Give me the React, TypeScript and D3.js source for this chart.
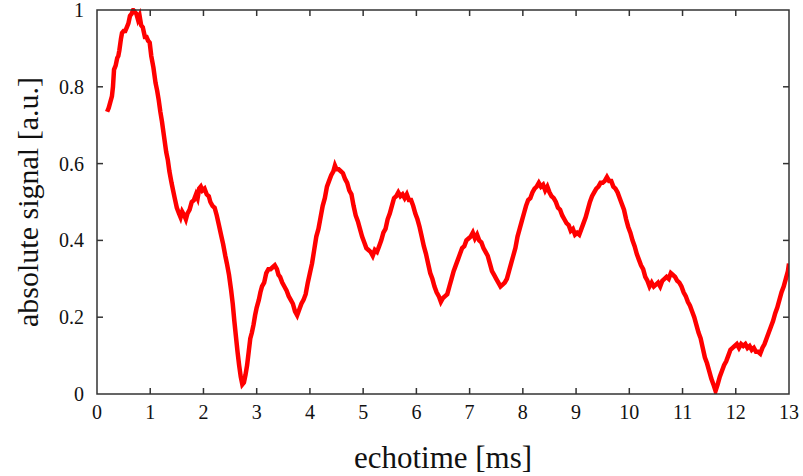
import React from "react";
import * as d3 from "d3";

const echoTime: number[] = [
  0.19, 0.22, 0.25, 0.28, 0.30, 0.32, 0.35, 0.38, 0.40, 0.42, 0.45, 0.47, 0.50, 0.53, 0.56, 0.59, 0.62, 0.65, 0.68, 0.71,
  0.74, 0.77, 0.80, 0.83, 0.86, 0.90, 0.93, 0.96, 0.99, 1.02, 1.06, 1.10, 1.13, 1.16, 1.19, 1.22, 1.26, 1.30, 1.33, 1.36,
  1.40, 1.43, 1.46, 1.50, 1.54, 1.57, 1.60, 1.64, 1.67, 1.70, 1.74, 1.78, 1.82, 1.86, 1.89, 1.92, 1.95, 1.98, 2.02, 2.06,
  2.10, 2.13, 2.17, 2.21, 2.25, 2.29, 2.33, 2.37, 2.41, 2.44, 2.48, 2.52, 2.55, 2.58, 2.61, 2.64, 2.67, 2.70, 2.73, 2.76,
  2.79, 2.82, 2.85, 2.88, 2.91, 2.94, 2.97, 3.00, 3.04, 3.07, 3.10, 3.14, 3.18, 3.22, 3.26, 3.30, 3.34, 3.38, 3.41, 3.44,
  3.48, 3.52, 3.56, 3.60, 3.64, 3.68, 3.72, 3.76, 3.80, 3.84, 3.88, 3.92, 3.96, 4.00, 4.04, 4.08, 4.12, 4.16, 4.20, 4.24,
  4.28, 4.32, 4.36, 4.40, 4.44, 4.47, 4.50, 4.54, 4.58, 4.62, 4.66, 4.70, 4.74, 4.78, 4.82, 4.86, 4.90, 4.94, 4.98, 5.02,
  5.06, 5.10, 5.14, 5.18, 5.22, 5.26, 5.30, 5.34, 5.38, 5.42, 5.46, 5.50, 5.54, 5.58, 5.62, 5.66, 5.70, 5.74, 5.78, 5.82,
  5.86, 5.90, 5.94, 5.98, 6.02, 6.06, 6.10, 6.14, 6.18, 6.22, 6.26, 6.30, 6.34, 6.38, 6.42, 6.46, 6.50, 6.54, 6.58, 6.62,
  6.66, 6.70, 6.74, 6.78, 6.82, 6.86, 6.90, 6.94, 6.98, 7.02, 7.06, 7.10, 7.14, 7.18, 7.22, 7.26, 7.30, 7.34, 7.38, 7.42,
  7.46, 7.50, 7.54, 7.58, 7.62, 7.66, 7.70, 7.74, 7.78, 7.82, 7.86, 7.90, 7.94, 7.98, 8.02, 8.06, 8.10, 8.14, 8.18, 8.22,
  8.26, 8.30, 8.34, 8.38, 8.42, 8.46, 8.50, 8.54, 8.58, 8.62, 8.66, 8.70, 8.74, 8.78, 8.82, 8.86, 8.90, 8.94, 8.98, 9.02,
  9.06, 9.10, 9.14, 9.18, 9.22, 9.26, 9.30, 9.34, 9.38, 9.42, 9.46, 9.50, 9.54, 9.58, 9.62, 9.66, 9.70, 9.74, 9.78, 9.82,
  9.86, 9.90, 9.94, 9.98, 10.02, 10.06, 10.10, 10.14, 10.18, 10.22, 10.26, 10.30, 10.34, 10.38, 10.42, 10.46, 10.50, 10.54, 10.58, 10.62,
  10.66, 10.70, 10.74, 10.78, 10.82, 10.86, 10.90, 10.94, 10.98, 11.02, 11.06, 11.10, 11.14, 11.18, 11.22, 11.26, 11.30, 11.34, 11.38, 11.42,
  11.46, 11.50, 11.54, 11.58, 11.62, 11.66, 11.70, 11.74, 11.78, 11.82, 11.86, 11.90, 11.94, 11.98, 12.02, 12.06, 12.10, 12.14, 12.18, 12.22,
  12.26, 12.30, 12.34, 12.38, 12.42, 12.46, 12.50, 12.54, 12.58, 12.62, 12.66, 12.70, 12.74, 12.78, 12.82, 12.86, 12.90, 12.94, 12.98, 13.00,
];

const signal: number[] = [
  0.735, 0.745, 0.76, 0.775, 0.80, 0.845, 0.855, 0.875, 0.88, 0.895, 0.925, 0.94, 0.945, 0.945, 0.955, 0.965, 0.985, 0.99, 1.0, 0.995,
  0.99, 0.975, 0.985, 0.96, 0.955, 0.93, 0.93, 0.92, 0.915, 0.88, 0.85, 0.81, 0.79, 0.765, 0.735, 0.71, 0.67, 0.63, 0.61, 0.58,
  0.55, 0.53, 0.51, 0.485, 0.47, 0.46, 0.475, 0.465, 0.455, 0.47, 0.48, 0.50, 0.505, 0.52, 0.51, 0.535, 0.54, 0.53, 0.535, 0.52,
  0.515, 0.50, 0.49, 0.485, 0.465, 0.44, 0.415, 0.39, 0.36, 0.34, 0.31, 0.27, 0.235, 0.19, 0.15, 0.11, 0.075, 0.045, 0.025, 0.03,
  0.05, 0.075, 0.11, 0.145, 0.16, 0.18, 0.205, 0.225, 0.245, 0.265, 0.28, 0.29, 0.315, 0.325, 0.325, 0.33, 0.335, 0.325, 0.31, 0.305,
  0.29, 0.28, 0.27, 0.255, 0.245, 0.235, 0.215, 0.205, 0.22, 0.235, 0.245, 0.26, 0.29, 0.315, 0.34, 0.375, 0.41, 0.43, 0.46, 0.49,
  0.51, 0.54, 0.555, 0.57, 0.58, 0.595, 0.585, 0.585, 0.58, 0.575, 0.56, 0.55, 0.53, 0.52, 0.49, 0.465, 0.45, 0.43, 0.41, 0.395,
  0.38, 0.375, 0.37, 0.36, 0.375, 0.37, 0.385, 0.40, 0.42, 0.43, 0.455, 0.47, 0.49, 0.51, 0.515, 0.525, 0.515, 0.52, 0.51, 0.52,
  0.505, 0.505, 0.49, 0.47, 0.455, 0.435, 0.41, 0.385, 0.365, 0.34, 0.315, 0.30, 0.28, 0.265, 0.255, 0.24, 0.25, 0.255, 0.26, 0.28,
  0.30, 0.32, 0.335, 0.35, 0.365, 0.38, 0.385, 0.40, 0.405, 0.41, 0.42, 0.405, 0.415, 0.40, 0.395, 0.38, 0.37, 0.36, 0.34, 0.32,
  0.31, 0.30, 0.29, 0.28, 0.285, 0.29, 0.30, 0.32, 0.34, 0.36, 0.38, 0.41, 0.43, 0.45, 0.47, 0.49, 0.505, 0.51, 0.525, 0.535,
  0.54, 0.55, 0.54, 0.545, 0.53, 0.54, 0.525, 0.515, 0.51, 0.50, 0.485, 0.48, 0.465, 0.455, 0.445, 0.44, 0.425, 0.43, 0.415, 0.42,
  0.415, 0.43, 0.445, 0.46, 0.48, 0.50, 0.515, 0.525, 0.535, 0.54, 0.55, 0.55, 0.555, 0.565, 0.555, 0.555, 0.54, 0.535, 0.525, 0.51,
  0.495, 0.48, 0.455, 0.435, 0.42, 0.40, 0.385, 0.365, 0.35, 0.335, 0.325, 0.305, 0.295, 0.28, 0.29, 0.28, 0.285, 0.29, 0.28, 0.295,
  0.30, 0.305, 0.30, 0.315, 0.31, 0.305, 0.295, 0.29, 0.28, 0.265, 0.255, 0.24, 0.23, 0.215, 0.20, 0.18, 0.16, 0.145, 0.12, 0.095,
  0.08, 0.06, 0.04, 0.025, 0.008, 0.025, 0.045, 0.06, 0.075, 0.085, 0.10, 0.115, 0.12, 0.125, 0.13, 0.12, 0.13, 0.125, 0.13, 0.12,
  0.125, 0.115, 0.12, 0.11, 0.11, 0.105, 0.12, 0.13, 0.145, 0.16, 0.175, 0.19, 0.21, 0.225, 0.245, 0.265, 0.28, 0.30, 0.32, 0.34,
];

const xTicks: number[] = [0, 1, 2, 3, 4, 5, 6, 7, 8, 9, 10, 11, 12, 13];
const yTicks: number[] = [0, 0.2, 0.4, 0.6, 0.8, 1];
const xLabel = "echotime [ms]";
const yLabel = "absolute signal [a.u.]";

const W = 803;
const H = 476;
const M = { left: 97, right: 14, top: 10, bottom: 82 };
const FONT = "Liberation Serif, DejaVu Serif, Times New Roman, serif";
const textStyle: React.CSSProperties = { fontFamily: FONT };

export default function App() {
  const x = d3.scaleLinear().domain([0, 13]).range([M.left, W - M.right]);
  const y = d3.scaleLinear().domain([0, 1]).range([H - M.bottom, M.top]);
  const pts = echoTime.map((t, i) => [t, signal[i]] as [number, number]);
  const line = d3
    .line<[number, number]>()
    .x((d) => x(d[0]))
    .y((d) => y(d[1]));
  const x0 = x(0), x1 = x(13), y0 = y(0), y1 = y(1);
  const tl = 6;
  const axisColor = "#333";
  return (
    <svg
      width={W}
      height={H}
      style={{ position: "absolute", left: 0, top: 0, background: "#fff" }}
    >
      <defs>
        <clipPath id="plotclip">
          <rect x={x0} y={y1 - 2} width={x1 - x0} height={y0 - y1 + 2} />
        </clipPath>
      </defs>
      <path
        d={line(pts) || ""}
        fill="none"
        stroke="#ff0000"
        strokeWidth={4.5}
        strokeLinejoin="miter"
        clipPath="url(#plotclip)"
      />
      <rect x={x0} y={y1} width={x1 - x0} height={y0 - y1} fill="none" stroke={axisColor} strokeWidth={1.5} />
      {xTicks.map((t) => (
        <g key={"x" + t}>
          {t > 0 && t < 13 && (
            <>
              <line x1={x(t)} x2={x(t)} y1={y0} y2={y0 - tl} stroke={axisColor} strokeWidth={1.5} />
              <line x1={x(t)} x2={x(t)} y1={y1} y2={y1 + tl} stroke={axisColor} strokeWidth={1.5} />
            </>
          )}
          <text x={x(t)} y={y0 + 25} textAnchor="middle" fontSize={20} fill="#111" style={textStyle}>
            {t}
          </text>
        </g>
      ))}
      {yTicks.map((t) => (
        <g key={"y" + t}>
          {t > 0 && t < 1 && (
            <>
              <line x1={x0} x2={x0 + tl} y1={y(t)} y2={y(t)} stroke={axisColor} strokeWidth={1.5} />
              <line x1={x1} x2={x1 - tl} y1={y(t)} y2={y(t)} stroke={axisColor} strokeWidth={1.5} />
            </>
          )}
          <text x={x0 - 13} y={y(t) + 7} textAnchor="end" fontSize={20} fill="#111" style={textStyle}>
            {String(t)}
          </text>
        </g>
      ))}
      <text x={(x0 + x1) / 2} y={468} textAnchor="middle" fontSize={31} fill="#111" style={textStyle}>
        {xLabel}
      </text>
      <text
        transform={`translate(38, ${(y0 + y1) / 2}) rotate(-90)`}
        textAnchor="middle"
        fontSize={30}
        fill="#111"
        style={textStyle}
      >
        {yLabel}
      </text>
    </svg>
  );
}
